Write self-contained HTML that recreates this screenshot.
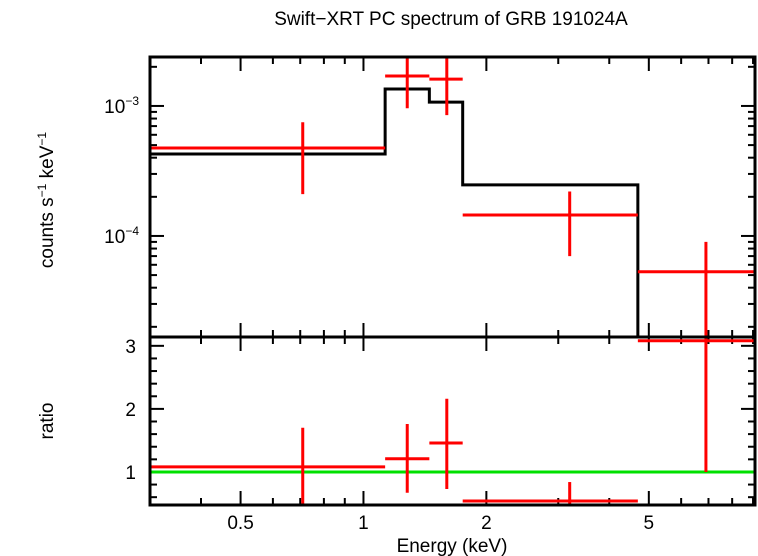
<!DOCTYPE html>
<html><head><meta charset="utf-8"><style>
body{margin:0;background:#fff}
svg{display:block;font-family:"Liberation Sans",sans-serif}
</style></head><body>
<svg id="c" width="758" height="556">
<text x="451" y="25" text-anchor="middle" font-size="19">Swift−XRT PC spectrum of GRB 191024A</text>
<text transform="translate(53,200) rotate(-90)" text-anchor="middle" font-size="19">counts s<tspan font-size="12" dy="-7">−1</tspan><tspan dy="7"> keV</tspan><tspan font-size="12" dy="-7">−1</tspan></text>
<text transform="translate(53,421) rotate(-90)" text-anchor="middle" font-size="19">ratio</text>
<text x="452" y="552" text-anchor="middle" font-size="19">Energy (keV)</text>
<g id="g"></g>
</svg>
<script>
const binLo=[0.3,1.13,1.45,1.75,4.7];
const binHi=[1.13,1.45,1.75,4.7,9.1];
const binCenter=[0.71,1.28,1.6,3.2,6.9];
const dataVal=[4.75e-4,1.70e-3,1.61e-3,1.45e-4,5.3e-5];
const dataErrHi=[7.5e-4,2.4e-3,2.4e-3,2.2e-4,9.0e-5];
const dataErrLo=[2.1e-4,9.6e-4,8.5e-4,7.0e-5,1.0e-5];
const modelVal=[4.27e-4,1.35e-3,1.07e-3,2.47e-4,1.0e-5];
const ratioVal=[1.08,1.21,1.46,0.54,3.08];
const ratioHi=[1.70,1.76,2.16,0.84,3.3];
const ratioLo=[0.4,0.67,0.73,0.4,1.0];
const xTickVals=[0.5,1,2,5];
const xTickLabels=["0.5","1","2","5"];
const ratioTicks=[1,2,3];

const L=150,R=755,T1=57,B1=337,B2=505;
const lx0=Math.log10(0.3),lx1=Math.log10(9.1);
const X=e=>L+(Math.log10(e)-lx0)/(lx1-lx0)*(R-L);
const ly0=Math.log10(1.67e-5),ly1=Math.log10(2.38e-3);
const Y1=v=>B1-(Math.log10(v)-ly0)/(ly1-ly0)*(B1-T1);
const r0=0.476,r1=3.14;
const Y2=v=>B2-(v-r0)/(r1-r0)*(B2-B1);
const NS="http://www.w3.org/2000/svg",g=document.getElementById('g');
function mk(t,a){const e=document.createElementNS(NS,t);for(const k in a)e.setAttribute(k,a[k]);g.appendChild(e);return e;}
const clamp1=y=>Math.max(T1,Math.min(B1,y)),clamp2=y=>Math.max(B1,Math.min(B2,y));

for(let d=-5;d<=-2;d++)for(let m=1;m<10;m++){const v=m*Math.pow(10,d);const y=Y1(v);if(y<T1||y>B1)continue;const len=m===1?14:7;
 let t=mk('line',{x1:L,x2:L+len,y1:y,y2:y,stroke:'#000','stroke-width':2});
 t=mk('line',{x1:R,x2:R-len,y1:y,y2:y,stroke:'#000','stroke-width':2});
 if(m===1){const tx=mk('text',{x:139,y:y+7,'text-anchor':'end','font-size':19});tx.innerHTML='10<tspan font-size="12" dy="-8">−'+(-d)+'</tspan>';}}
for(let v=0.6;v<=3.1;v+=0.2){const y=Y2(v);const major=Math.abs(v-Math.round(v))<0.01;const len=major?14:7;
 let t=mk('line',{x1:L,x2:L+len,y1:y,y2:y,stroke:'#000','stroke-width':2});
 t=mk('line',{x1:R,x2:R-len,y1:y,y2:y,stroke:'#000','stroke-width':2});}
ratioTicks.forEach(v=>{const t=mk('text',{x:136,y:Y2(v)+7,'text-anchor':'end','font-size':19});t.textContent=v;});
for(let d=-1;d<=0;d++)for(let m=1;m<10;m++){const e=m*Math.pow(10,d);const x=X(e);if(x<L||x>R)continue;const len=(m===1||m===2||m===5)?14:7;
 [[T1,1],[B1,-1],[B1,1],[B2,-1]].forEach(([y0,s])=>{const t=mk('line',{x1:x,x2:x,y1:y0,y2:y0+s*len,stroke:'#000','stroke-width':2});});}
xTickVals.forEach((v,i)=>{const t=mk('text',{x:X(v),y:529,'text-anchor':'middle','font-size':19});t.textContent=xTickLabels[i];});

let d='';binLo.forEach((lo,i)=>{const y=clamp1(Y1(modelVal[i]));d+=(i?'L':'M')+X(lo)+','+y+'L'+X(binHi[i])+','+y;});
let p=mk('path',{d:d,fill:'none',stroke:'#000','stroke-width':3});
p=mk('line',{x1:L,x2:R,y1:Y2(1),y2:Y2(1),stroke:'#00e000','stroke-width':3});
binLo.forEach((lo,i)=>{
 let e=mk('line',{x1:X(lo),x2:X(binHi[i]),y1:Y1(dataVal[i]),y2:Y1(dataVal[i]),stroke:'#f00','stroke-width':3});
 e=mk('line',{x1:X(binCenter[i]),x2:X(binCenter[i]),y1:clamp1(Y1(dataErrHi[i])),y2:clamp1(Y1(dataErrLo[i])),stroke:'#f00','stroke-width':3});
 e=mk('line',{x1:X(lo),x2:X(binHi[i]),y1:clamp2(Y2(ratioVal[i])),y2:clamp2(Y2(ratioVal[i])),stroke:'#f00','stroke-width':3});
 e=mk('line',{x1:X(binCenter[i]),x2:X(binCenter[i]),y1:clamp2(Y2(ratioHi[i])),y2:clamp2(Y2(ratioLo[i])),stroke:'#f00','stroke-width':3});
});
p=mk('rect',{x:L,y:T1,width:R-L,height:B1-T1,fill:'none',stroke:'#000','stroke-width':3});
p=mk('rect',{x:L,y:B1,width:R-L,height:B2-B1,fill:'none',stroke:'#000','stroke-width':3});
</script>
</body></html>
